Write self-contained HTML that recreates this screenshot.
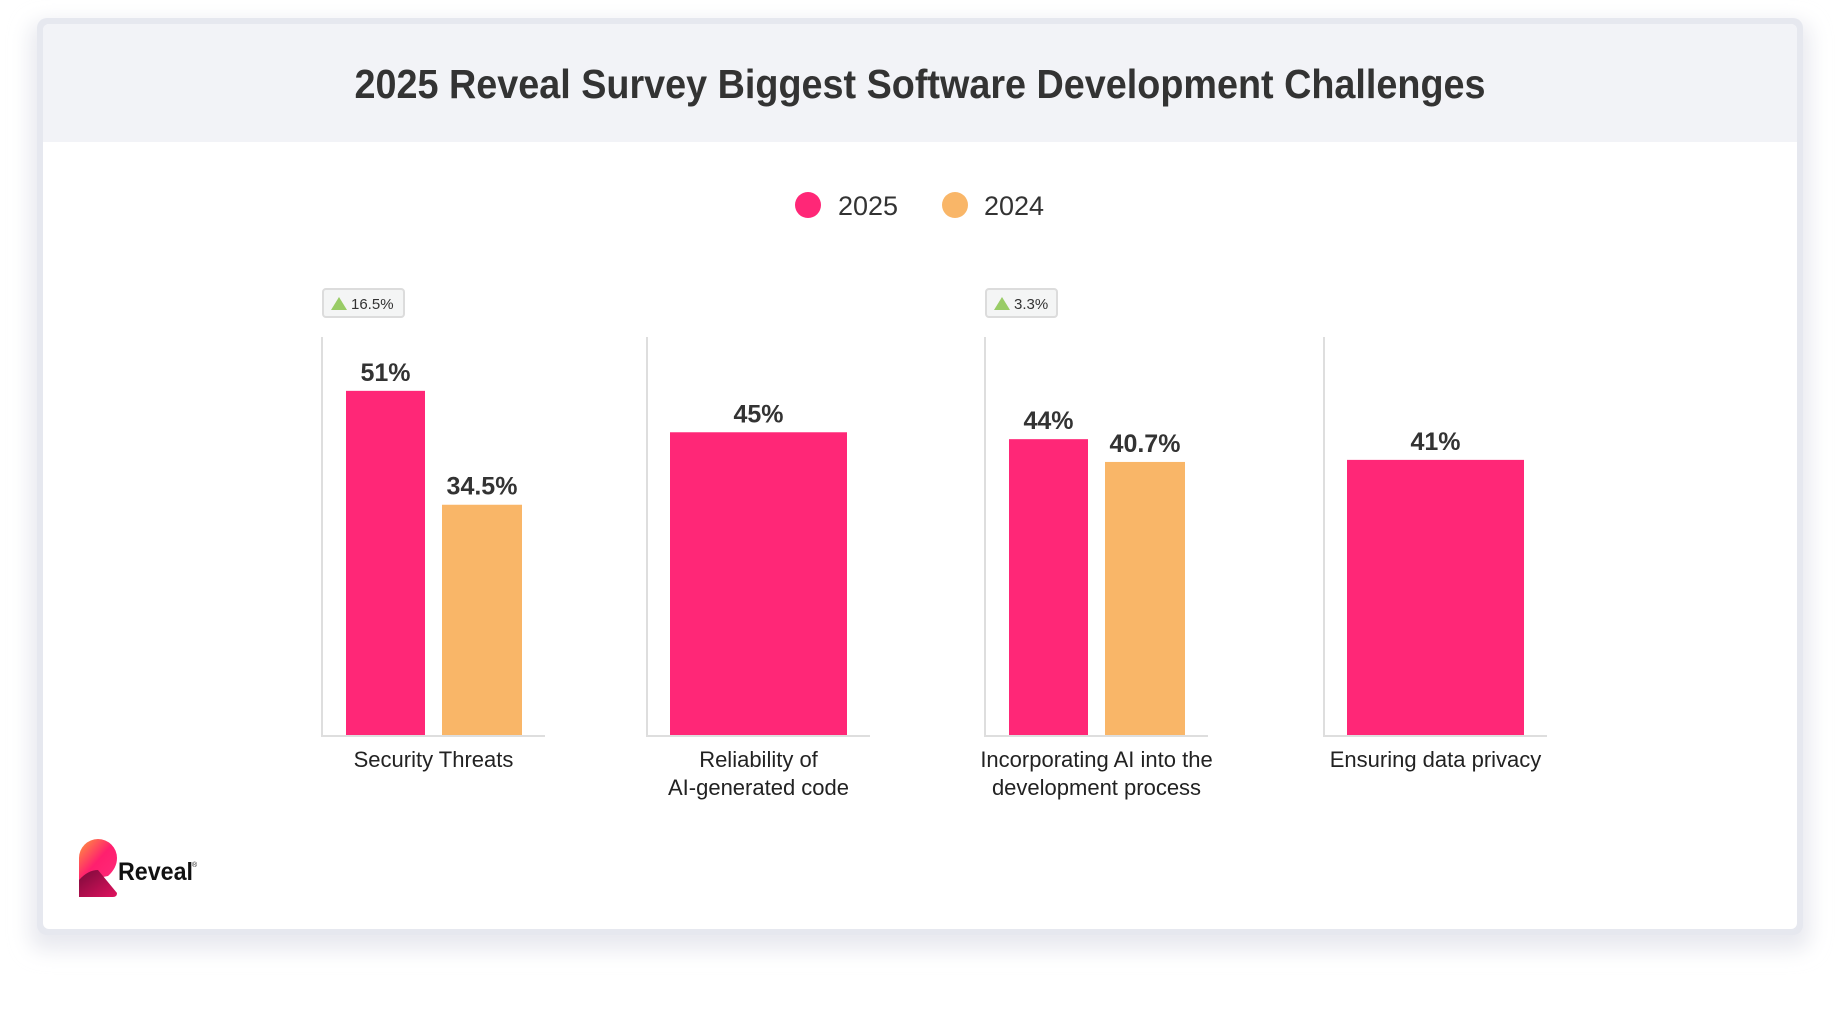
<!DOCTYPE html>
<html><head><meta charset="utf-8">
<style>
html,body{margin:0;padding:0;background:#fff;}
body{width:1840px;height:1012px;overflow:hidden;font-family:"Liberation Sans",sans-serif;}
</style></head>
<body>
<svg id="chart" width="1840" height="1012" viewBox="0 0 1840 1012" xmlns="http://www.w3.org/2000/svg">
  <defs>
    <filter id="sh" x="-5%" y="-5%" width="110%" height="115%">
      <feGaussianBlur stdDeviation="10"/>
    </filter>
    <linearGradient id="lg1" x1="0" y1="0" x2="1" y2="1">
      <stop offset="0" stop-color="#ff9a3c"/><stop offset="0.5" stop-color="#ff1f6e"/><stop offset="1" stop-color="#ff2b7a"/>
    </linearGradient>
    <linearGradient id="lg2" x1="0" y1="0" x2="1" y2="1">
      <stop offset="0" stop-color="#7a0a3a"/><stop offset="1" stop-color="#e0125e"/>
    </linearGradient>
  </defs>
  <rect x="30" y="22" width="1780" height="928" rx="14" fill="#e8e9ef" filter="url(#sh)"/>
  <rect x="37" y="18" width="1766" height="917" rx="10" fill="#e6e8ef"/>
  <rect x="43" y="24" width="1754" height="905" rx="6" fill="#ffffff"/>
  <path d="M49 24 H1791 A6 6 0 0 1 1797 30 V142 H43 V30 A6 6 0 0 1 49 24 Z" fill="#f2f3f7"/>
  <text x="920" y="98" text-anchor="middle" font-size="41" font-weight="bold" fill="#333" textLength="1131" lengthAdjust="spacingAndGlyphs">2025 Reveal Survey Biggest Software Development Challenges</text>

  <g>
    <g>
      <circle cx="808" cy="205" r="13" fill="#ff2777"/>
      <text x="838" y="215" font-size="27" fill="#333">2025</text>
    </g>
    <g>
      <circle cx="955" cy="205" r="13" fill="#f9b668"/>
      <text x="984" y="215" font-size="27" fill="#333">2024</text>
    </g>
  </g>

  <g id="plot"></g>

  <g>
    <path d="M79 858 A19 19 0 0 1 117 858 Q117 868 108 876 L79 882 Z" fill="url(#lg1)"/>
    <path d="M79 897 V880 Q88 870 98 870 L117 893 Q117 897 113 897 Z" fill="url(#lg2)"/>
    <text x="118" y="880" font-size="25" font-weight="bold" fill="#111" textLength="75" lengthAdjust="spacingAndGlyphs">Reveal</text>
    <text x="192" y="867" font-size="7" fill="#111">®</text>
  </g>
</svg>
<script>
const categories = [["Security Threats"], ["Reliability of", "AI-generated code"], ["Incorporating AI into the", "development process"], ["Ensuring data privacy"]];
const values2025 = [51, 45, 44, 41];
const values2024 = [34.5, null, 40.7, null];
const valueLabels2025 = ["51%", "45%", "44%", "41%"];
const valueLabels2024 = ["34.5%", null, "40.7%", null];
const changeLabels = ["16.5%", null, "3.3%", null];

const NS = "http://www.w3.org/2000/svg";
const plot = document.getElementById("plot");
const yMin = 1, yMax = 58.8, plotTop = 337, plotBottom = 736;
function yScale(v){ return plotBottom - (v - yMin) / (yMax - yMin) * (plotBottom - plotTop); }
const groupLeft = [322, 647, 985, 1324];
const groupWidth = 223;
function gx(i){ return groupLeft[i]; }
function mk(tag, attrs){ const e = document.createElementNS(NS, tag); for (const k in attrs) e.setAttribute(k, attrs[k]); plot.appendChild(e); return e; }

categories.forEach((cat, i) => {
  const gxs = gx(i);
  const ax = mk("path", {d: `M${gxs} ${plotTop} V${plotBottom} H${gxs + groupWidth}`, fill: "none", stroke: "#dedede", "stroke-width": 2});
  
  
  const has24 = values2024[i] !== null;
  const bars = has24 ? [[values2025[i], valueLabels2025[i], "#ff2777", gxs + 24, 79], [values2024[i], valueLabels2024[i], "#f9b668", gxs + 120, 80]]
                     : [[values2025[i], valueLabels2025[i], "#ff2777", gxs + 23, 177]];
  bars.forEach((b, j) => {
    const yt = yScale(b[0]);
    const r = mk("rect", {x: b[3], y: yt, width: b[4], height: plotBottom - 1 - yt, fill: b[2]});
    
    
    const t = mk("text", {x: b[3] + b[4] / 2, y: yt - 10, "text-anchor": "middle", "font-size": 25, "font-weight": "bold", fill: "#333"});
    t.textContent = b[1];
    
    
  });
  cat.forEach((line, k) => {
    const t = mk("text", {x: gxs + groupWidth / 2, y: 767 + k * 28, "text-anchor": "middle", "font-size": 22, fill: "#222"});
    t.textContent = line;
    
    
  });
  if (changeLabels[i]) {
    const w = i === 0 ? 81 : 71;
    const bg = mk("rect", {x: gxs + 1, y: 289, width: w, height: 28, rx: 3, fill: "#f4f5f5", stroke: "#dcdcdc", "stroke-width": 2});
    
    
    const tri = mk("path", {d: `M${gxs + 9} 310 L${gxs + 17} 297 L${gxs + 25} 310 Z`, fill: "#99cc66"});
    
    
    const t = mk("text", {x: gxs + 29, y: 309, "font-size": 15, fill: "#333"});
    t.textContent = changeLabels[i];
    
    
  }
});
</script>
</body></html>
